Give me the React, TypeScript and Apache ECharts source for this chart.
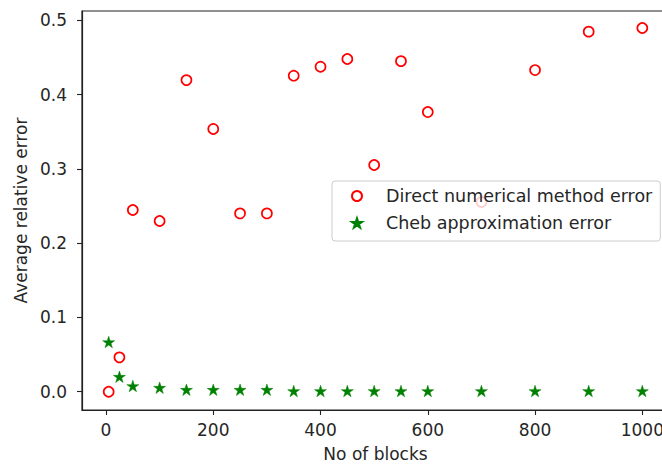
import React, { useEffect, useRef } from "react";
import * as echarts from "echarts";

const blocks = [5, 25, 50, 100, 150, 200, 250, 300, 350, 400, 450, 500, 550, 600, 700, 800, 900, 1000];
const directErrors = [0, 0.0463, 0.2446, 0.2298, 0.4195, 0.3537, 0.24, 0.24, 0.4254, 0.4375, 0.4479, 0.3052, 0.445, 0.3765, 0.2554, 0.433, 0.4847, 0.4896];
const chebErrors = [0.0669, 0.0202, 0.0077, 0.0054, 0.0027, 0.0027, 0.0027, 0.0027, 0.001, 0.001, 0.001, 0.001, 0.001, 0.001, 0.001, 0.001, 0.001, 0.001];
const xTicks = [0, 200, 400, 600, 800, 1000];
const yTicks = [0, 0.1, 0.2, 0.3, 0.4, 0.5];

const STAR =
  "path://M0,-1 L0.2245,-0.309 L0.951,-0.309 L0.363,0.118 L0.588,0.809 L0,0.382 L-0.588,0.809 L-0.363,0.118 L-0.951,-0.309 L-0.2245,-0.309 Z";

const FONT = "DejaVu Sans";
const TXT = "#262626";

export default function App() {
  const ref = useRef<HTMLDivElement>(null);
  useEffect(() => {
    document.body.style.margin = "0";
    const chart = echarts.init(ref.current!, null, { renderer: "svg" });
    const axisCommon = {
      axisLine: { show: true, onZero: false, lineStyle: { color: "#222", width: 1.2 } },
      axisTick: { show: true, inside: false, length: 5, lineStyle: { color: "#222", width: 1.1 } },
      splitLine: { show: false },
      nameTextStyle: { fontFamily: FONT, fontSize: 17, color: TXT },
    };
    chart.setOption({
      animation: false,
      backgroundColor: "#fff",
      grid: {
        left: 82,
        top: 11,
        width: 587,
        height: 399,
        containLabel: false,
        outerBoundsMode: "none",
        show: true,
        borderColor: "#222",
        borderWidth: 1.2,
        backgroundColor: "transparent",
      },
      xAxis: {
        type: "value",
        min: -44.75,
        max: 1049.75,
        name: "No of blocks",
        nameLocation: "middle",
        nameGap: 35,
        ...axisCommon,
        axisTick: { ...axisCommon.axisTick, customValues: xTicks },
        axisLabel: {
          customValues: xTicks,
          margin: 11,
          fontFamily: FONT,
          fontSize: 17,
          color: TXT,
          formatter: (v: number) => String(Math.round(v)),
        },
      },
      yAxis: {
        type: "value",
        min: -0.0246,
        max: 0.5125,
        name: "Average relative error",
        nameLocation: "middle",
        nameGap: 51,
        ...axisCommon,
        axisTick: { ...axisCommon.axisTick, customValues: yTicks },
        axisLabel: {
          customValues: yTicks,
          margin: 15,
          fontFamily: FONT,
          fontSize: 17,
          color: TXT,
          formatter: (v: number) => v.toFixed(1),
        },
      },
      legend: {
        orient: "vertical",
        left: 332,
        top: 181,
        padding: [5, 8, 8, 19],
        itemGap: 7,
        itemWidth: 10,
        itemHeight: 10,
        backgroundColor: "rgba(255,255,255,0.8)",
        borderColor: "#cccccc",
        borderWidth: 1,
        borderRadius: 3,
        textStyle: { fontFamily: FONT, fontSize: 17.5, color: TXT, lineHeight: 20, padding: [0, 0, 0, 19] },
        data: ["Direct numerical method error", "Cheb approximation error"],
      },
      series: [
        {
          name: "Direct numerical method error",
          type: "scatter",
          symbol: "circle",
          symbolSize: 10,
          itemStyle: { color: "rgba(255,255,255,0)", borderColor: "#ff0000", borderWidth: 1.7, opacity: 1 },
          data: blocks.map((b, i) => [b, directErrors[i]]),
        },
        {
          name: "Cheb approximation error",
          type: "scatter",
          symbol: STAR,
          symbolSize: [12, 11.5],
          itemStyle: { color: "#008000", borderColor: "#008000", borderWidth: 0.5, opacity: 1 },
          data: blocks.map((b, i) => [b, chebErrors[i]]),
        },
      ],
    });
    return () => chart.dispose();
  }, []);
  return <div ref={ref} style={{ width: 662, height: 466 }} />;
}
